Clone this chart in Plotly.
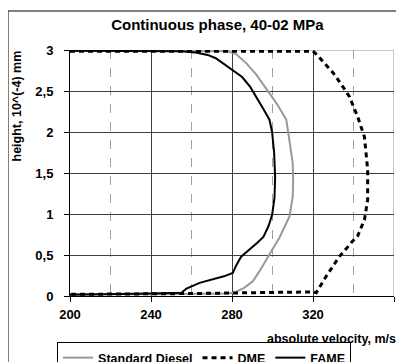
import plotly.graph_objects as go

# ---- data ----
diesel_v = [200, 240, 278, 282, 287, 292, 297, 302, 306.8, 308.4, 310, 310.2, 310, 308.4, 306, 303.4, 300, 297, 293.5, 290.3, 286, 281, 278, 240, 200]
diesel_h = [2.99, 2.99, 2.985, 2.95, 2.84, 2.70, 2.53, 2.35, 2.15, 1.9, 1.62, 1.4, 1.21, 0.97, 0.85, 0.71, 0.57, 0.44, 0.30, 0.18, 0.10, 0.04, 0.03, 0.02, 0.02]

dme_v = [200, 260, 320, 322, 326, 330, 334, 338, 342, 345.4, 347, 347, 345.4, 342, 339.6, 333, 326.5, 321.6, 320, 305, 300, 280, 260, 200]
dme_h = [2.985, 2.985, 2.985, 2.94, 2.83, 2.72, 2.58, 2.43, 2.19, 1.94, 1.54, 1.17, 0.93, 0.73, 0.67, 0.48, 0.24, 0.04, 0.05, 0.045, 0.04, 0.03, 0.03, 0.02]

fame_v = [200, 220, 240, 255, 262, 268, 272, 276, 280, 285, 289, 292, 295.5, 298.5, 299.8, 300.8, 301.3, 301, 299.8, 298, 295.5, 292.5, 288, 284.5, 282, 280.4, 276, 270, 264, 257.5, 255, 240, 220, 200]
fame_h = [2.99, 2.99, 2.99, 2.985, 2.97, 2.94, 2.90, 2.83, 2.76, 2.67, 2.55, 2.43, 2.28, 2.15, 2.0, 1.75, 1.45, 1.2, 0.99, 0.85, 0.72, 0.65, 0.56, 0.48, 0.37, 0.28, 0.24, 0.20, 0.16, 0.09, 0.04, 0.03, 0.02, 0.015]

x_ticks = [200, 240, 280, 320, 360]
x_labels = ["200", "240", "280", "320", "360"]
y_ticks = [0, 0.5, 1, 1.5, 2, 2.5, 3]
y_labels = ["0", "0,5", "1", "1,5", "2", "2,5", "3"]

title_text = "Continuous phase, 40-02 MPa"
x_title = "absolute velocity, m/s"
y_title = "height, 10^(-4) mm"

FONT = "Liberation Sans, Arial, sans-serif"

# The page body has an 8px margin, so the figure is drawn 8px in and 8px down.
OFF = 8
W, H = 404 - OFF, 362 - OFF

fig = go.Figure()
fig.add_trace(go.Scatter(x=diesel_v, y=diesel_h, mode="lines", name="Standard Diesel",
                         line=dict(color="#999999", width=2)))
fig.add_trace(go.Scatter(x=dme_v, y=dme_h, mode="lines", name="DME",
                         line=dict(color="black", width=3, dash="5px,4px")))
fig.add_trace(go.Scatter(x=fame_v, y=fame_h, mode="lines", name="FAME",
                         line=dict(color="black", width=2)))

fig.update_layout(
    width=W, height=H,
    margin=dict(l=62, r=10, t=42, b=66, autoexpand=False),
    paper_bgcolor="white", plot_bgcolor="white",
    font=dict(family=FONT, size=13, color="black", weight="bold"),
    showlegend=True,
    legend=dict(orientation="h", x=-0.04, xanchor="left", y=-0.187, yanchor="top",
                bgcolor="white", bordercolor="black", borderwidth=1,
                font=dict(family=FONT, size=12.5, color="black", weight="bold"),
                itemwidth=30, tracegroupgap=0),
    title=dict(text=title_text, x=0.455, xref="paper", xanchor="center",
               y=1 - (25 - OFF) / H, yref="container", yanchor="middle",
               font=dict(family=FONT, size=15, color="black", weight="bold")),
    xaxis=dict(range=[200, 360], tickvals=x_ticks, ticktext=x_labels,
               showgrid=True, gridcolor="#404040", gridwidth=1,
               showline=True, linecolor="black", linewidth=1,
               ticks="outside", ticklen=5, tickcolor="black",
               ticklabelstandoff=1, zeroline=False,
               minor=dict(dtick=20, tick0=200, showgrid=True, gridcolor="#a0a0a0",
                          griddash="dash", gridwidth=1, ticks="")),
    yaxis=dict(range=[0, 3], tickvals=y_ticks, ticktext=y_labels,
               showgrid=True, gridcolor="#404040", gridwidth=1,
               showline=True, linecolor="black", linewidth=1,
               ticks="outside", ticklen=5, tickcolor="black",
               ticklabelstandoff=8, zeroline=False),
)

# gray plot border (top and right)
fig.add_shape(type="line", xref="x", yref="y", x0=200, x1=360, y0=3, y1=3,
              line=dict(color="#909090", width=1), layer="below")
fig.add_shape(type="line", xref="x", yref="y", x0=360, x1=360, y0=0, y1=3,
              line=dict(color="#909090", width=1), layer="below")
# outer chart frame (cropped at right and bottom)
fig.add_shape(type="rect", xref="paper", yref="paper",
              x0=(8.5 - 70.5) / 324, x1=2, y0=-2, y1=(296 - 11) / 246,
              line=dict(color="black", width=1), layer="below")

fig.add_annotation(text=x_title, xref="paper", yref="paper",
                   x=(398 - 70.5) / 324, y=(296 - 339) / 246,
                   xanchor="right", yanchor="middle", showarrow=False,
                   font=dict(family=FONT, size=12.5, color="black", weight="bold"))
fig.add_annotation(text=y_title, xref="paper", yref="paper",
                   x=(17 - 70.5) / 324, y=(296 - 106) / 246, textangle=-90,
                   xanchor="center", yanchor="middle", showarrow=False,
                   font=dict(family=FONT, size=12.5, color="black", weight="bold"))

fig.write_html("out.html")
